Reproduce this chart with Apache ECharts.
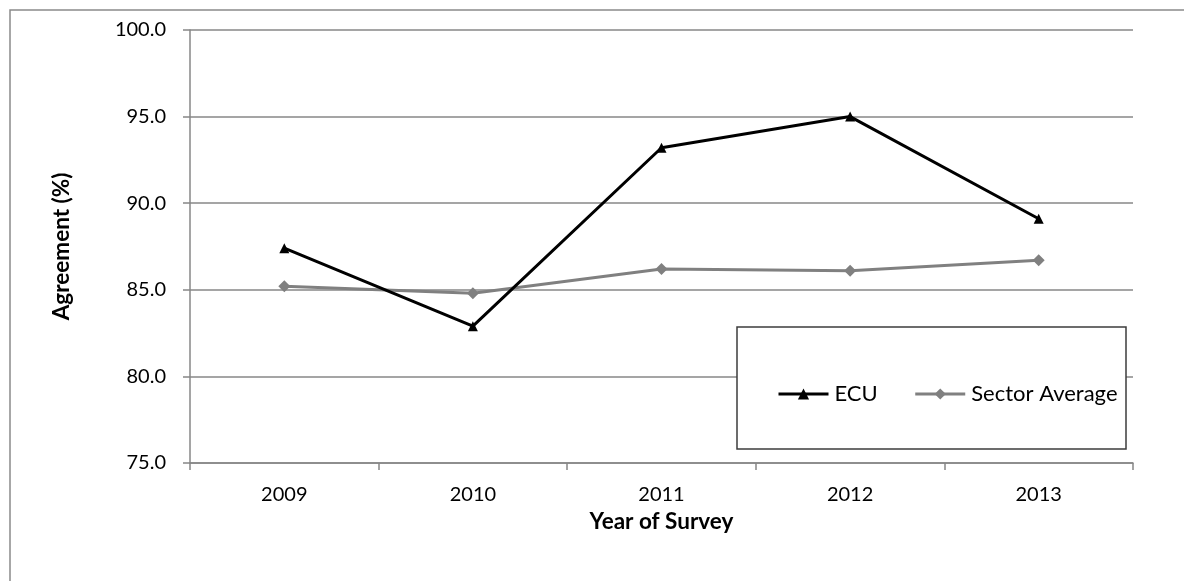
<!DOCTYPE html>
<html>
<head>
<meta charset="utf-8">
<script src="https://cdn.jsdelivr.net/npm/echarts@6/dist/echarts.min.js"></script>
<style>
  html, body { margin: 0; padding: 0; background: #ffffff; }
  #chart { width: 1184px; height: 581px; }
</style>
</head>
<body>
<div id="chart"></div>
<script>
// Survey years and agreement scores (%)
const years = ['2009', '2010', '2011', '2012', '2013'];
const ecuValues = [87.4, 82.9, 93.2, 95.0, 89.1];
const sectorValues = [85.2, 84.8, 86.2, 86.1, 86.7];
const seriesNames = ['ECU', 'Sector Average'];

const FONT = 'Lato, "Open Sans", sans-serif';
const GRID_COLOR = '#878787';

const chart = echarts.init(document.getElementById('chart'));

chart.setOption({
  animation: false,
  backgroundColor: '#ffffff',
  textStyle: { fontFamily: FONT },
  grid: { left: 190, top: 30, right: 51, bottom: 118, containLabel: false },
  graphic: [
    // outer chart frame
    {
      type: 'rect',
      shape: { x: 10, y: 10, width: 1200, height: 620 },
      style: { fill: 'none', stroke: '#8a8a8a', lineWidth: 1.5 },
      z: 0
    },
    // legend frame
    {
      type: 'rect',
      shape: { x: 737, y: 327, width: 389, height: 122 },
      style: { fill: '#ffffff', stroke: '#3c3c3c', lineWidth: 1.5 },
      z: 20
    }
  ],
  legend: {
    data: seriesNames,
    left: 772,
    top: 378,
    itemWidth: 50,
    itemHeight: 14,
    itemGap: 36,
    z: 30,
    lineStyle: { width: 3 },
    textStyle: { fontFamily: FONT, fontSize: 22, color: '#000000', padding: [0, 0, 0, 1] }
  },
  xAxis: {
    type: 'category',
    data: years,
    boundaryGap: true,
    name: 'Year of Survey',
    nameLocation: 'middle',
    nameGap: 33,
    nameTextStyle: { fontFamily: FONT, fontSize: 22.5, fontWeight: 'bold', color: '#000000' },
    axisLine: { lineStyle: { color: GRID_COLOR, width: 1.5 } },
    axisTick: { show: true, length: 7, inside: false, alignWithLabel: false, lineStyle: { color: GRID_COLOR, width: 1.5 } },
    axisLabel: { fontFamily: FONT, fontSize: 20, color: '#000000', margin: 22 },
    splitLine: { show: false }
  },
  yAxis: {
    type: 'value',
    min: 75,
    max: 100,
    interval: 5,
    name: 'Agreement (%)',
    nameLocation: 'middle',
    nameGap: 117,
    nameRotate: 90,
    nameTextStyle: { fontFamily: FONT, fontSize: 22.5, fontWeight: 'bold', color: '#000000' },
    axisLine: { show: true, lineStyle: { color: GRID_COLOR, width: 1.5 } },
    axisTick: { show: true, length: 7, lineStyle: { color: GRID_COLOR, width: 1.5 } },
    axisLabel: {
      fontFamily: FONT, fontSize: 20, color: '#000000', margin: 24,
      formatter: v => v.toFixed(1)
    },
    splitLine: { show: true, lineStyle: { color: GRID_COLOR, width: 1.5 } }
  },
  series: [
    {
      name: seriesNames[0],
      type: 'line',
      data: ecuValues,
      symbol: 'triangle',
      symbolSize: 10,
      lineStyle: { color: '#000000', width: 3 },
      itemStyle: { color: '#000000' },
      z: 5
    },
    {
      name: seriesNames[1],
      type: 'line',
      data: sectorValues,
      symbol: 'diamond',
      symbolSize: 12,
      lineStyle: { color: '#808080', width: 3 },
      itemStyle: { color: '#808080' },
      z: 4
    }
  ]
});
</script>
</body>
</html>
